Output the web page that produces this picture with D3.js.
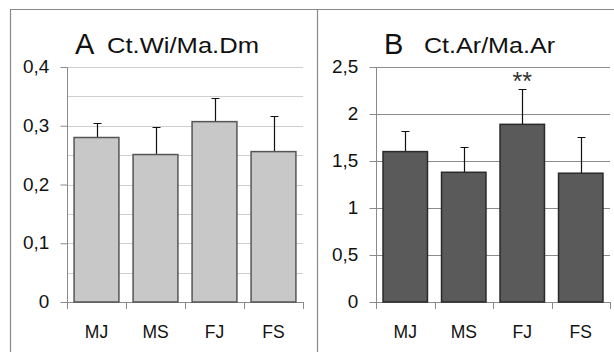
<!DOCTYPE html>
<html>
<head>
<meta charset="utf-8">
<script src="https://cdn.jsdelivr.net/npm/d3@7"></script>
<style>
body { margin: 0; background: #fff; }
svg { display: block; font-family: "Liberation Sans", Arial, sans-serif; }
</style>
</head>
<body>
<div id="chart"></div>
<script>
var groups = ["MJ", "MS", "FJ", "FS"];

var ctWiMean = [0.28, 0.251, 0.307, 0.256];
var ctWiErr  = [0.025, 0.047, 0.040, 0.061];
var ctWiTicks = [0, 0.1, 0.2, 0.3, 0.4];
var ctWiGrid = [0.05, 0.1, 0.15, 0.2, 0.25, 0.3, 0.35, 0.4];

var ctArMean = [1.6, 1.38, 1.89, 1.37];
var ctArErr  = [0.22, 0.27, 0.38, 0.39];
var ctArTicks = [0, 0.5, 1, 1.5, 2, 2.5];
var ctArSig = ["", "", "**", ""];

var W = 614, H = 352;
var svg = d3.select("#chart").append("svg")
    .attr("width", W)
    .attr("height", H);

// frame lines
svg.append("line").attr("x1", 10).attr("x2", W).attr("y1", 9.5).attr("y2", 9.5)
    .attr("stroke", "#8a8a8a").attr("stroke-width", 1.2);
svg.append("line").attr("x1", 10.5).attr("x2", 10.5).attr("y1", 9).attr("y2", H)
    .attr("stroke", "#8a8a8a").attr("stroke-width", 1.2);
svg.append("line").attr("x1", 317.5).attr("x2", 317.5).attr("y1", 9).attr("y2", H)
    .attr("stroke", "#8a8a8a").attr("stroke-width", 1.2);

var fmt = function(d) { return String(d).replace(".", ","); };

function panel(opt) {
  var x = d3.scaleBand().domain(groups).range([opt.left, opt.right]).paddingInner(0.24).paddingOuter(0.12);
  var xb = d3.scaleBand().domain(groups).range([opt.left, opt.right]);
  var y = d3.scaleLinear().domain([0, opt.max]).range([302, 67]);
  var g = svg.append("g");

  // gridlines
  g.selectAll(".grid")
    .data(opt.grid)
    .enter().append("line")
      .attr("x1", opt.left).attr("x2", opt.right)
      .attr("y1", function(d) { return Math.round(y(d)) + 0.5; })
      .attr("y2", function(d) { return Math.round(y(d)) + 0.5; })
      .attr("stroke", opt.gridColor).attr("stroke-width", 1);

  // y axis
  var ya = g.append("g")
      .attr("transform", "translate(" + (opt.left + 0.5) + ",0)")
      .call(d3.axisLeft(y).tickValues(opt.ticks).tickFormat(fmt).tickSize(7).tickPadding(10));
  ya.select(".domain").attr("stroke", "#8a8a8a").attr("d", "M0," + y(opt.max) + "V" + (y(0) + 0.5));
  ya.selectAll(".tick line").attr("stroke", "#8a8a8a");
  ya.selectAll(".tick text").attr("font-size", 17.5).attr("fill", "#111")
      .attr("font-family", "Liberation Sans, Arial, sans-serif")
      .attr("transform", "scale(1.08,1)");

  // x axis baseline and ticks at category borders
  g.append("line").attr("x1", opt.left).attr("x2", opt.right)
      .attr("y1", Math.round(y(0)) + 0.5).attr("y2", Math.round(y(0)) + 0.5)
      .attr("stroke", "#8a8a8a");
  g.selectAll(".xt")
    .data(groups.concat(["end"]))
    .enter().append("line")
      .attr("x1", function(d) { return Math.round(d === "end" ? opt.right : xb(d)) + 0.5; })
      .attr("x2", function(d) { return Math.round(d === "end" ? opt.right : xb(d)) + 0.5; })
      .attr("y1", y(0)).attr("y2", y(0) + 7)
      .attr("stroke", "#8a8a8a");
  g.selectAll(".xl")
    .data(groups)
    .enter().append("text")
      .attr("x", function(d) { return xb(d) + xb.bandwidth() / 2; })
      .attr("y", 338)
      .attr("text-anchor", "middle")
      .attr("font-size", 17.5)
      .attr("fill", "#111")
      .text(function(d) { return d; });

  // error bars
  g.selectAll(".err")
    .data(groups)
    .enter().append("path")
      .attr("d", function(d, i) {
        var cx = Math.round(x(d) + x.bandwidth() / 2) + 0.5;
        var y0 = y(opt.mean[i]), y1 = Math.round(y(opt.mean[i] + opt.err[i])) + 0.5;
        return "M" + cx + "," + y0 + "V" + y1 + "M" + (cx - 4) + "," + y1 + "H" + (cx + 4);
      })
      .attr("stroke", "#111").attr("stroke-width", 1.2).attr("fill", "none");

  // bars
  g.selectAll(".bar")
    .data(groups)
    .enter().append("rect")
      .attr("x", function(d) { return x(d); })
      .attr("y", function(d, i) { return y(opt.mean[i]); })
      .attr("width", x.bandwidth())
      .attr("height", function(d, i) { return y(0) - y(opt.mean[i]); })
      .attr("fill", opt.fill)
      .attr("stroke", opt.stroke)
      .attr("stroke-width", 1.5);

  if (opt.sig) {
    g.selectAll(".sig")
      .data(groups)
      .enter().append("text")
        .attr("x", function(d) { return x(d) + x.bandwidth() / 2; })
        .attr("y", function(d, i) { return y(opt.mean[i] + opt.err[i]) + 1; })
        .attr("text-anchor", "middle")
        .attr("font-size", 25)
        .attr("fill", "#333")
        .text(function(d, i) { return opt.sig[i]; });
  }

  // title
  svg.append("text").attr("x", opt.left + 8).attr("y", 54)
      .attr("font-size", 29).attr("fill", "#111").text(opt.letter);
  svg.append("text").attr("x", opt.left + opt.titleDx).attr("y", 53)
      .attr("font-size", 21.5).attr("fill", "#111")
      .attr("textLength", opt.titleW).attr("lengthAdjust", "spacingAndGlyphs")
      .text(opt.title);
}

panel({
  left: 67, right: 303, max: 0.4,
  mean: ctWiMean, err: ctWiErr, ticks: ctWiTicks, grid: ctWiGrid,
  gridColor: "#cfcfcf", fill: "#c8c8c8", stroke: "#555",
  letter: "A", title: "Ct.Wi/Ma.Dm", titleDx: 40, titleW: 152
});

panel({
  left: 376, right: 610, max: 2.5,
  mean: ctArMean, err: ctArErr, ticks: ctArTicks, grid: [0.5, 1, 1.5, 2, 2.5],
  gridColor: "#8c8c8c", fill: "#5a5a5a", stroke: "#2a2a2a",
  letter: "B", title: "Ct.Ar/Ma.Ar", titleDx: 48, titleW: 131, sig: ctArSig
});
</script>
</body>
</html>
